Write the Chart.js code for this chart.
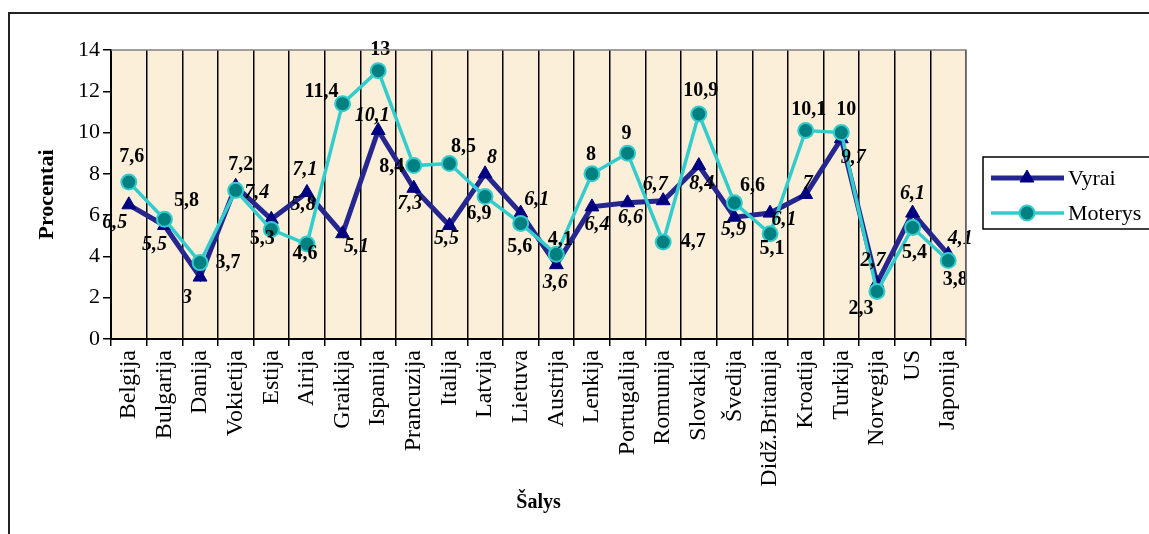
<!DOCTYPE html>
<html>
<head>
<meta charset="utf-8">
<script src="https://cdn.jsdelivr.net/npm/chart.js@4.4.1/dist/chart.umd.min.js"></script>
<style>
  html, body { margin: 0; padding: 0; background: #fff; }
  #wrap { width: 1149px; height: 534px; position: relative; }
</style>
</head>
<body>
<div id="wrap"><canvas id="myLineChart"></canvas></div>
<script>
const countries = ["Belgija", "Bulgarija", "Danija", "Vokietija", "Estija", "Airija", "Graikija", "Ispanija",
  "Prancuzija", "Italija", "Latvija", "Lietuva", "Austrija", "Lenkija", "Portugalija", "Romunija",
  "Slovakija", "Švedija", "Didž.Britanija", "Kroatija", "Turkija", "Norvegija", "US", "Japonija"];
const vyrai = [6.5, 5.5, 3, 7.4, 5.8, 7.1, 5.1, 10.1, 7.3, 5.5, 8, 6.1, 3.6, 6.4, 6.6, 6.7, 8.4, 5.9, 6.1, 7, 9.7, 2.7, 6.1, 4.1];
const moterys = [7.6, 5.8, 3.7, 7.2, 5.3, 4.6, 11.4, 13, 8.4, 8.5, 6.9, 5.6, 4.1, 8, 9, 4.7, 10.9, 6.6, 5.1, 10.1, 10, 2.3, 5.4, 3.8];
const yTicks = [0, 2, 4, 6, 8, 10, 12, 14];

// where each value label sits relative to its point (dx, dy)
const vyraiLabelShift = [[-14, 18], [-10, 19], [-13, 21], [21, 7], [32, -14], [-2, -23], [14, 13], [-6, -15],
  [-4, 16], [-3, 13], [7, -16], [16, -13], [-1, 18], [5, 18], [3, 15], [-8, -16],
  [3, 18], [-1, 13], [14, 7], [2, -11], [12, 19], [-4, -22], [0, -19], [12, -16]];
const moterysLabelShift = [[3, -25], [22, -18], [28, 0], [5, -26], [-9, 9], [-2, 10], [-21, -12], [2, -21],
  [-22, 1], [14, -17], [-6, 17], [-1, 23], [4, -15], [-1, -19], [-1, -19], [30, 0],
  [2, -23], [18, -17], [2, 15], [3, -21], [5, -23], [-16, 17], [2, 25], [7, 19]];

const SERIF = "'Liberation Serif', 'Times New Roman', serif";

const decorPlugin = {
  id: "decor",
  beforeDraw(chart) {
    const { ctx, chartArea: a } = chart;
    ctx.save();
    ctx.fillStyle = "#ffffff";
    ctx.fillRect(0, 0, chart.width, chart.height);
    ctx.fillStyle = "#fcefd9";
    ctx.fillRect(a.left, a.top, a.right - a.left, a.bottom - a.top);
    ctx.restore();
  },
  afterDatasetsDraw(chart) {
    const ctx = chart.ctx;
    ctx.save();
    ctx.fillStyle = "#000";
    ctx.textAlign = "center";
    ctx.textBaseline = "middle";
    chart.data.datasets.forEach((ds, di) => {
      const meta = chart.getDatasetMeta(di);
      const shifts = ds.labelShift;
      ctx.font = ds.labelFont;
      meta.data.forEach((pt, i) => {
        const txt = String(ds.data[i]).replace(".", ",");
        ctx.fillText(txt, pt.x + shifts[i][0], pt.y + shifts[i][1]);
      });
    });
    ctx.restore();
  },
  afterDraw(chart) {
    const { ctx, chartArea: a } = chart;
    ctx.save();
    // grey plot border top / right
    ctx.strokeStyle = "#808080";
    ctx.lineWidth = 1.5;
    ctx.beginPath();
    ctx.moveTo(a.left, a.top);
    ctx.lineTo(a.right, a.top);
    ctx.lineTo(a.right, a.bottom);
    ctx.stroke();

    // outer frame
    ctx.strokeStyle = "#222";
    ctx.lineWidth = 2;
    ctx.strokeRect(9, 13, 1200, 600);

    // legend
    const lx = 983, ly = 157, lw = 180, lh = 72;
    ctx.fillStyle = "#fff";
    ctx.fillRect(lx, ly, lw, lh);
    ctx.strokeStyle = "#000";
    ctx.lineWidth = 1.5;
    ctx.strokeRect(lx, ly, lw, lh);
    const rows = [178, 213];
    chart.data.datasets.forEach((ds, di) => {
      const y = rows[di];
      ctx.strokeStyle = ds.borderColor;
      ctx.lineWidth = ds.borderWidth;
      ctx.beginPath();
      ctx.moveTo(991, y);
      ctx.lineTo(1064, y);
      ctx.stroke();
      ctx.fillStyle = ds.pointBackgroundColor;
      ctx.strokeStyle = ds.pointBorderColor;
      ctx.lineWidth = ds.pointBorderWidth;
      Chart.helpers.drawPoint(ctx, {
        pointStyle: ds.pointStyle,
        radius: ds.pointRadius,
        rotation: 0,
        borderWidth: ds.pointBorderWidth
      }, 1027, y);
      ctx.fillStyle = "#000";
      ctx.font = "22px " + SERIF;
      ctx.textAlign = "left";
      ctx.textBaseline = "middle";
      ctx.fillText(ds.label, 1068, y + 1);
    });
    ctx.restore();
  }
};

const ctx = document.getElementById("myLineChart").getContext("2d");

new Chart(ctx, {
  type: "line",
  data: {
    labels: countries,
    datasets: [
      {
        label: "Vyrai",
        data: vyrai,
        order: 2,
        borderColor: "#26268f",
        borderWidth: 5,
        pointStyle: "triangle",
        pointRadius: 8,
        pointBackgroundColor: "#000080",
        pointBorderColor: "#000080",
        pointBorderWidth: 1,
        tension: 0,
        labelShift: vyraiLabelShift,
        labelFont: "italic bold 20px " + SERIF
      },
      {
        label: "Moterys",
        data: moterys,
        order: 1,
        borderColor: "#33cccc",
        borderWidth: 3.5,
        pointStyle: "circle",
        pointRadius: 7.5,
        pointBackgroundColor: "#008080",
        pointBorderColor: "#33cccc",
        pointBorderWidth: 2,
        tension: 0,
        labelShift: moterysLabelShift,
        labelFont: "bold 20px " + SERIF
      }
    ]
  },
  options: {
    responsive: true,
    maintainAspectRatio: false,
    animation: false,
    devicePixelRatio: 1,
    layout: { padding: { left: 20, right: 183, top: 50, bottom: 0 } },
    scales: {
      x: {
        offset: true,
        afterFit: (scale) => { scale.height = 195; },
        grid: {
          offset: true,
          display: true,
          drawOnChartArea: true,
          drawTicks: true,
          tickLength: 7,
          color: "#000",
          lineWidth: 1.5
        },
        border: { display: true, color: "#000", width: 2 },
        ticks: {
          autoSkip: false,
          minRotation: 90,
          maxRotation: 90,
          padding: 4,
          color: "#000",
          font: { family: SERIF, size: 24 }
        },
        title: {
          display: true,
          text: "Šalys",
          color: "#000",
          font: { family: SERIF, size: 20, weight: "bold" },
          padding: { top: 4, bottom: 19 }
        }
      },
      y: {
        min: 0,
        max: 14,
        afterFit: (scale) => { scale.width = 91; },
        afterBuildTicks: (scale) => { scale.ticks = yTicks.map(v => ({ value: v })); },
        grid: {
          drawOnChartArea: false,
          drawTicks: true,
          tickLength: 8,
          color: "#000",
          lineWidth: 1.5
        },
        border: { display: true, color: "#000", width: 2 },
        ticks: {
          padding: 3,
          color: "#000",
          font: { family: SERIF, size: 22 }
        },
        title: {
          display: true,
          text: "Procentai",
          color: "#000",
          font: { family: SERIF, size: 22, weight: "bold" },
          padding: { top: 14, bottom: 4 }
        }
      }
    },
    plugins: {
      legend: { display: false },
      tooltip: { enabled: false }
    }
  },
  plugins: [decorPlugin]
});
</script>
</body>
</html>
